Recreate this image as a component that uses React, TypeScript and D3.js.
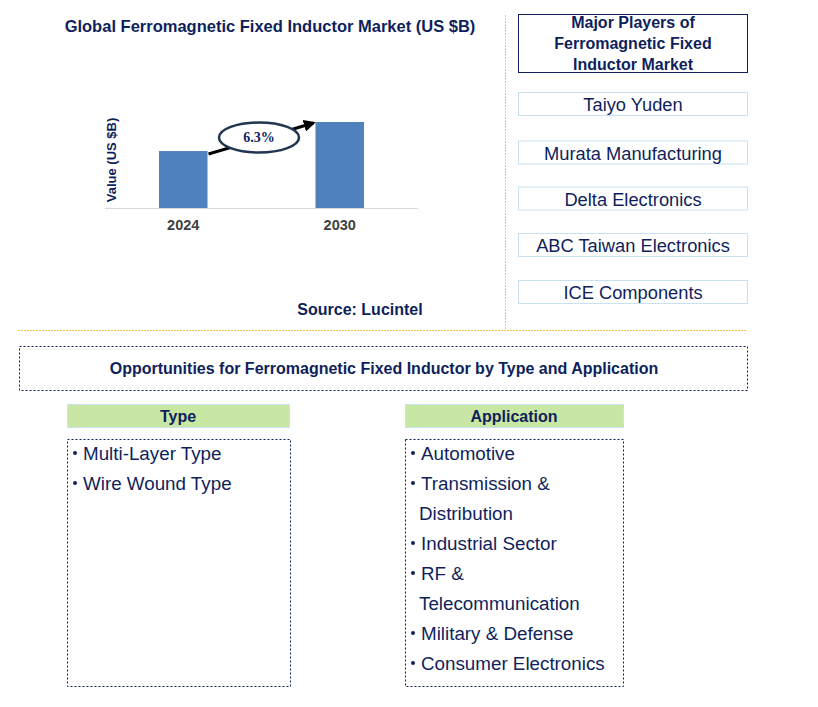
import React from "react";
import * as d3 from "d3";

const years = ["2024", "2030"];
const marketValues = [1.0, 1.51];
const cagrLabel = "6.3%";

const players = [
  "Taiyo Yuden",
  "Murata Manufacturing",
  "Delta Electronics",
  "ABC Taiwan Electronics",
  "ICE Components",
];

const typeItems = ["Multi-Layer Type", "Wire Wound Type"];
// each entry is one bullet, split into its wrapped lines
const applicationItems = [
  ["Automotive"],
  ["Transmission &", "Distribution"],
  ["Industrial Sector"],
  ["RF &", "Telecommunication"],
  ["Military & Defense"],
  ["Consumer Electronics"],
];

const NAVY = "#0f1f5c";
const FONT = "'Liberation Sans', Arial, sans-serif";

function DottedBox({ x, y, w, h }: any) {
  return (
    <rect x={x + 0.5} y={y + 0.5} width={w} height={h} fill="none"
      stroke={NAVY} strokeWidth={1} strokeDasharray="2,2" />
  );
}

function BulletList({ x, y, lines }: any) {
  // lines: array of arrays; first line gets bullet
  let row = 0;
  const out: any[] = [];
  lines.forEach((item: string[], i: number) => {
    item.forEach((txt, j) => {
      const ty = y + row * 30;
      if (j === 0) {
        out.push(<circle key={`b${i}`} cx={x + 3} cy={ty} r={2} fill={NAVY} />);
      }
      out.push(
        <text key={`t${i}-${j}`} x={j === 0 ? x + 11 : x + 9} y={ty} dy="0.35em"
          fontSize={18.8} fill={NAVY} fontFamily={FONT}>{txt}</text>
      );
      row++;
    });
  });
  return <g>{out}</g>;
}

export default function App() {
  const xScale = d3.scaleBand().domain(years).range([105, 418])
    .paddingInner(0.69).paddingOuter(0.345);
  const yScale = d3.scaleLinear().domain([0, 1.51]).range([208, 122]);
  const bw = xScale.bandwidth();

  const x0 = (xScale(years[0]) as number) + bw + 1;
  const y0 = yScale(marketValues[0]) + 3;
  const x1 = (xScale(years[1]) as number) - 2;
  const y1 = yScale(marketValues[1]) + 1;
  const mx = (x0 + x1) / 2;
  const my = (y0 + y1) / 2;

  return (
    <svg width={818} height={707}
      style={{ position: "absolute", left: 0, top: 0, background: "#fff" }}
      fontFamily={FONT}>
      <defs>
        <marker id="arr" viewBox="0 0 10 10" refX="8" refY="5" markerWidth="4"
          markerHeight="4" orient="auto">
          <path d="M0,0 L10,5 L0,10 z" fill="#000" />
        </marker>
      </defs>

      {/* chart title */}
      <text x={270} y={26} dy="0.35em" textAnchor="middle" fontSize={16.5}
        fontWeight="bold" fill={NAVY}>Global Ferromagnetic Fixed Inductor Market (US $B)</text>

      {/* bars */}
      {years.map((yr, i) => (
        <rect key={yr} x={xScale(yr)} y={yScale(marketValues[i])} width={bw}
          height={yScale(0) - yScale(marketValues[i])} fill="#4f81bd" />
      ))}
      <line x1={105} x2={418} y1={208.5} y2={208.5} stroke="#d9d9d9" strokeWidth={1} />
      {years.map((yr) => (
        <text key={yr} x={(xScale(yr) as number) + bw / 2} y={225} dy="0.35em"
          textAnchor="middle" fontSize={14.5} fontWeight="bold" fill="#404040">{yr}</text>
      ))}
      <text transform="translate(111,160) rotate(-90)" textAnchor="middle" dy="0.35em"
        fontSize={13} fontWeight="bold" fill={NAVY}>Value (US $B)</text>

      {/* CAGR arrow */}
      <line x1={x0} y1={y0} x2={x1} y2={y1} stroke="#000" strokeWidth={3}
        markerEnd="url(#arr)" />
      <ellipse cx={mx - 2} cy={my - 1} rx={40} ry={15} fill="#fff" stroke="#1f3550" strokeWidth={2.5} />
      <text x={mx - 2} y={my - 1} dy="0.35em" textAnchor="middle" fontSize={14}
        fontWeight="bold" fill={NAVY} fontFamily="'Liberation Serif', 'Times New Roman', serif">{cagrLabel}</text>

      <text x={360} y={309} dy="0.35em" textAnchor="middle" fontSize={16}
        fontWeight="bold" fill={NAVY}>Source: Lucintel</text>

      {/* separators */}
      <line x1={505.5} x2={505.5} y1={15} y2={330} stroke="#f5c242" strokeWidth={1} strokeDasharray="2,1" />
      <line x1={18} x2={747} y1={330.5} y2={330.5} stroke="#f5c242" strokeWidth={1} strokeDasharray="2,1" />

      {/* major players */}
      <rect x={518.5} y={14.5} width={229} height={58} fill="none" stroke={NAVY} strokeWidth={1} />
      {["Major Players of", "Ferromagnetic Fixed", "Inductor Market"].map((t, i) => (
        <text key={t} x={633} y={22 + i * 21} dy="0.35em" textAnchor="middle"
          fontSize={16} fontWeight="bold" fill={NAVY}>{t}</text>
      ))}
      {players.map((p, i) => {
        const cy = [104, 152.5, 198.5, 245, 292][i];
        return (
          <g key={p}>
            <rect x={518.5} y={cy - 11.5} width={229} height={23} fill="none"
              stroke="#c9e2f1" strokeWidth={1} />
            <text x={633} y={cy + 1} dy="0.35em" textAnchor="middle" fontSize={18.3}
              fill={NAVY}>{p}</text>
          </g>
        );
      })}

      {/* opportunities */}
      <DottedBox x={19} y={346} w={728} h={44} />
      <text x={384} y={368} dy="0.35em" textAnchor="middle" fontSize={16}
        fontWeight="bold" fill={NAVY}>Opportunities for Ferromagnetic Fixed Inductor by Type and Application</text>

      <rect x={67.5} y={404.5} width={222} height={23} fill="#c8e6a4" stroke="#c9e2f1" strokeWidth={1} />
      <text x={178} y={416} dy="0.35em" textAnchor="middle" fontSize={16}
        fontWeight="bold" fill={NAVY}>Type</text>
      <rect x={405.5} y={404.5} width={218} height={23} fill="#c8e6a4" stroke="#c9e2f1" strokeWidth={1} />
      <text x={514} y={416} dy="0.35em" textAnchor="middle" fontSize={16}
        fontWeight="bold" fill={NAVY}>Application</text>

      <DottedBox x={67} y={439} w={223} h={247} />
      <DottedBox x={405} y={439} w={218} h={247} />
      <BulletList x={72} y={453} lines={typeItems.map((t) => [t])} />
      <BulletList x={410} y={453} lines={applicationItems} />
    </svg>
  );
}
